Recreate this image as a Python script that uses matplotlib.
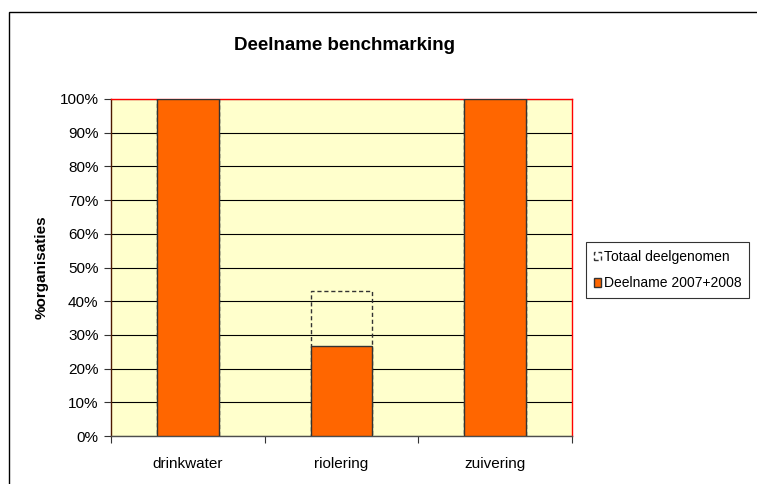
import numpy as np
import matplotlib.pyplot as plt
from matplotlib.patches import Rectangle
from matplotlib.ticker import MultipleLocator, FuncFormatter

plt.rcParams['font.family'] = ['Liberation Sans', 'DejaVu Sans']

categories = ['drinkwater', 'riolering', 'zuivering']
totaal = [100, 42.9, 100]
deelname = [100, 26.7, 100]

fig = plt.figure(figsize=(7.57, 4.84), dpi=100)
# chart border: only left and top edges fall inside the image
fig.patches.append(Rectangle((9 / 757, -0.1), 1, 1.1 - 12 / 484, transform=fig.transFigure,
                             fill=False, edgecolor='black', linewidth=1.0))
ax = fig.add_axes([111 / 757, 1 - 436 / 484, 461 / 757, 337 / 484])
ax.set_facecolor('#ffffcc')

x = np.arange(len(categories))
ax.bar(x, totaal, width=0.4, facecolor='none', edgecolor='#333333',
       linestyle=(0, (3, 2)), linewidth=1.0, label='Totaal deelgenomen', zorder=3)
ax.bar(x, deelname, width=0.4, color='#ff6600', edgecolor='#333333',
       linewidth=1.0, label='Deelname 2007+2008', zorder=4)

ax.set_xlim(-0.5, 2.5)
ax.set_ylim(0, 100)
ax.yaxis.set_major_locator(MultipleLocator(10))
ax.yaxis.set_major_formatter(FuncFormatter(lambda v, p: f'{v:.0f}%'))
ax.grid(axis='y', color='black', linewidth=0.8, zorder=1)
ax.set_axisbelow(True)

ax.set_xticks([-0.5, 0.5, 1.5, 2.5], minor=False)
ax.set_xticklabels([])
ax.set_xticks(x, minor=True)
ax.set_xticklabels(categories, minor=True)
ax.tick_params(axis='x', which='minor', length=0, pad=15, labelsize=11)
ax.tick_params(axis='x', which='major', length=5, direction='out', color='#333333')
ax.tick_params(axis='y', length=5, direction='out', labelsize=11, color='#333333', pad=4)

ax.spines['left'].set_color('#4d1a00')
ax.spines['bottom'].set_color('#4d4d4d')
ax.spines['top'].set_color('red')
ax.spines['right'].set_color('red')
for s in ax.spines.values():
    s.set_linewidth(1.0)

ax.set_ylabel('%organisaties', fontsize=11, fontweight='bold', labelpad=8)
fig.text(345 / 757, 1 - 45 / 484, 'Deelname benchmarking',
         ha='center', va='center', fontsize=13.5, fontweight='bold')

leg = ax.legend(loc='center left', bbox_to_anchor=(586 / 757, 1 - 270 / 484),
                bbox_transform=fig.transFigure, fontsize=10, frameon=True,
                fancybox=False, edgecolor='black', handlelength=0.55, handleheight=0.55,
                handletextpad=0.2, labelspacing=0.9, borderpad=0.55, borderaxespad=0)
leg.get_frame().set_linewidth(0.8)

fig.savefig('out.png', dpi=100)
